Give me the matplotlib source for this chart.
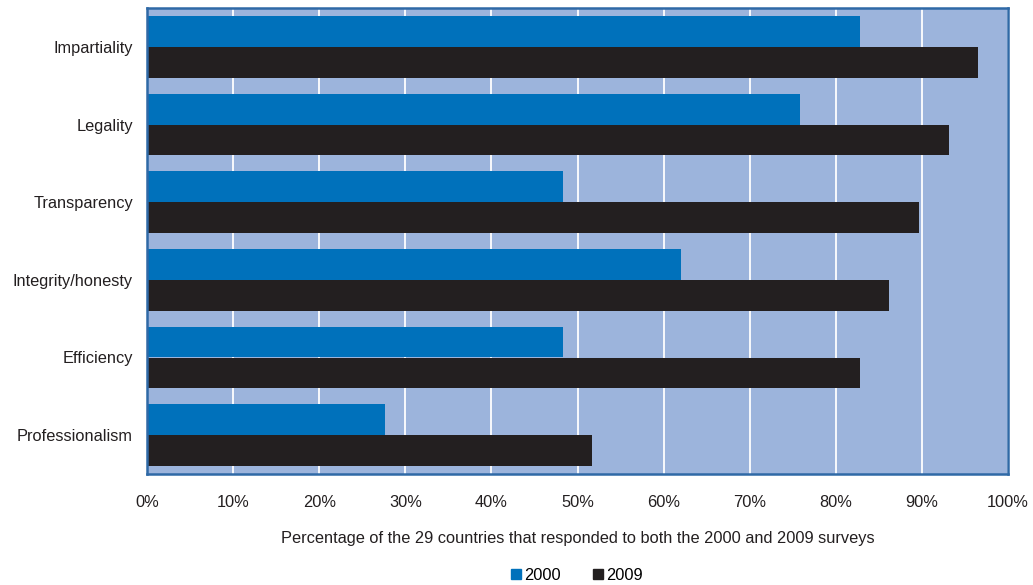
import numpy as np
import matplotlib.pyplot as plt
from matplotlib.patches import Patch

plt.rcParams['font.family'] = ['Liberation Sans', 'DejaVu Sans']

# survey results, 29 countries answering both rounds
categories = ['Impartiality', 'Legality', 'Transparency', 'Integrity/honesty',
              'Efficiency', 'Professionalism']
n_countries = 29
count_2000 = [24, 22, 14, 18, 14, 8]
count_2009 = [28, 27, 26, 25, 24, 15]
pct_2000 = [c / n_countries for c in count_2000]
pct_2009 = [c / n_countries for c in count_2009]
xticks = [0, 0.1, 0.2, 0.3, 0.4, 0.5, 0.6, 0.7, 0.8, 0.9, 1.0]

c2000 = '#0071bb'
c2009 = '#231f20'
bg = '#9cb4dc'
edge = '#2f69a6'
fs = 11.8

fig = plt.figure(figsize=(10.33, 5.85), dpi=100)
ax = fig.add_axes([147 / 1033, 1 - 474 / 585, 861 / 1033, 466 / 585])
ax.set_facecolor(bg)

y = np.arange(len(categories))
h = 31 / 78
ax.barh(y - h / 2, pct_2000, height=h, color=c2000, zorder=3)
ax.barh(y + h / 2, pct_2009, height=h, color=c2009, zorder=3)

ax.set_xlim(0, 1.0)
ax.set_ylim(len(categories) - 0.5, -0.5)
ax.set_xticks(xticks)
ax.set_xticklabels(['{:.0f}%'.format(t * 100) for t in xticks])
ax.set_yticks(y)
ax.set_yticklabels(categories)
ax.tick_params(axis='both', length=0, labelsize=fs, colors='#231f20')
ax.tick_params(axis='x', pad=15)
ax.tick_params(axis='y', pad=10)
ax.xaxis.grid(True, color='white', linewidth=1.3, zorder=1)
for s in ax.spines.values():
    s.set_color(edge)
    s.set_linewidth(1.8)
    s.set_zorder(4)

ax.set_xlabel('Percentage of the 29 countries that responded to both the 2000 and 2009 surveys',
              fontsize=fs, color='#231f20', labelpad=15)

handles = [Patch(color=c2000, label='2000'), Patch(color=c2009, label='2009')]
fig.legend(handles=handles, loc='center', bbox_to_anchor=(577 / 1033, 1 - 575 / 585),
           ncol=2, frameon=False, fontsize=fs, handlelength=0.6, handleheight=0.6,
           handletextpad=0.2, columnspacing=2.0)

fig.savefig('out.png', dpi=100)
